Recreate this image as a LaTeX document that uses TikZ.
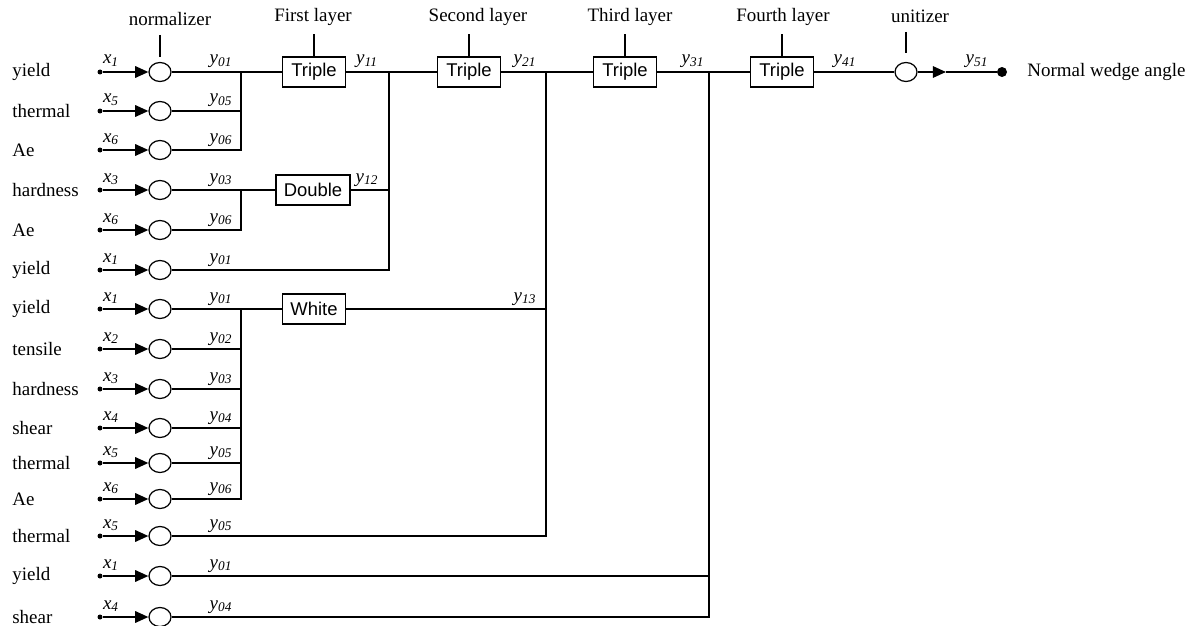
\documentclass[tikz,border=0pt]{standalone}
\usepackage{fontspec}
\setmainfont{Liberation Serif}
\setsansfont{Liberation Sans}
\usepackage{tikz}
\usetikzlibrary{shapes.geometric,arrows.meta,positioning,calc}

\newcommand{\sx}[2]{\textit{#1}\textsubscript{\textit{#2}}}

\begin{document}
\begin{tikzpicture}[
  x=0.02cm, y=-0.02cm,
  font=\fontsize{10.8}{13}\selectfont,
  >={Triangle[length=7.5pt, width=6.5pt]},
  norm/.style={ellipse, draw, line width=0.7pt, fill=white,
               minimum width=0.44cm, minimum height=0.38cm, inner sep=0},
  dot/.style={circle, fill=black, minimum size=0.1cm, inner sep=0},
  enddot/.style={circle, fill=black, minimum size=0.2cm, inner sep=0},
  box/.style={rectangle, draw, line width=0.8pt, fill=white, minimum width=1.26cm,
              minimum height=0.6cm, inner sep=2pt, font=\sffamily\fontsize{10.5}{12}\selectfont},
  layer/.style={anchor=south, inner sep=0pt},
  inlbl/.style={anchor=west, inner sep=0pt},
  sig/.style={anchor=base, inner sep=0pt},
  inarr/.style={->, line width=1.1pt},
  wire/.style={line width=0.8pt},
]
\useasboundingbox (0,0) rectangle (1199,625);

% inputs and normalizers
\foreach \i/\yy/\name/\xs/\ys in {1/72/yield/1/01, 2/111/thermal/5/05, 3/150/Ae/6/06,
    4/190/hardness/3/03, 5/230/Ae/6/06, 6/270/yield/1/01, 7/309/yield/1/01,
    8/349/tensile/2/02, 9/389/hardness/3/03, 10/428/shear/4/04, 11/463/thermal/5/05,
    12/499/Ae/6/06, 13/536/thermal/5/05, 14/576/yield/1/01, 15/617/shear/4/04}{
  \node[inlbl] (n\i) at (12,\yy) {\name};
  \node[dot]   (d\i) at (100,\yy) {};
  \node[norm]  (c\i) at (160,\yy) {};
  \draw[inarr] (d\i) -- (c\i);
  \node[sig] (xl\i) at (111,\yy-8) {\sx{x}{\xs}};
  \node[sig] (yl\i) at (221,\yy-8) {\sx{y}{\ys}};
}

% layer boxes
\node[box] (t1) at (314,72)  {Triple};
\node[box] (t2) at (469,72)  {Triple};
\node[box] (t3) at (625,72)  {Triple};
\node[box] (t4) at (782,72)  {Triple};
\node[box, minimum width=1.48cm] (db) at (313,190) {Double};
\node[box] (wh) at (314,309) {White};
\node[norm] (un) at (906,72) {};
\node[enddot] (end) at (1002,72) {};
\node[inlbl] (out) at (1027,72) {Normal wedge angle};

% layer titles
\node[layer] (lnorm) at (170,26) {normalizer};
\node[layer] (l1) at (313,26) {First layer};
\node[layer] (l2) at (478,26) {Second layer};
\node[layer] (l3) at (630,26) {Third layer};
\node[layer] (l4) at (783,26) {Fourth layer};
\node[layer] (lun) at (920,23) {unitizer};

\coordinate (tn1) at (160,35);
\coordinate (tn2) at (160,57);
\coordinate (tu1) at (906,32);
\coordinate (tu2) at (906,53);
\draw[wire] (tn1) -- (tn2);
\draw[wire] (tu1) -- (tu2);
\draw[wire] (t1.north) -- ++(0,-22);
\draw[wire] (t2.north) -- ++(0,-22);
\draw[wire] (t3.north) -- ++(0,-22);
\draw[wire] (t4.north) -- ++(0,-22);

% junction points
\coordinate (ja) at (241,72);
\coordinate (jb) at (241,190);
\coordinate (jc) at (241,309);
\coordinate (j1) at (389,72);
\coordinate (j2) at (546,72);
\coordinate (j3) at (709,72);
\coordinate (am) at (946,72);

% connections
\draw[wire] (c1) -- (t1);
\draw[wire] (c2) -| (ja);
\draw[wire] (c3) -| (ja);
\draw[wire] (c4) -- (db);
\draw[wire] (c5) -| (jb);
\draw[wire] (c7) -- (wh);
\foreach \i in {8,...,12}{
  \draw[wire] (c\i) -| (jc);
}
\draw[wire] (t1) -- (t2);
\draw[wire] (db) -| (j1);
\draw[wire] (c6) -| (j1);
\draw[wire] (t2) -- (t3);
\draw[wire] (wh) -| (j2);
\draw[wire] (c13) -| (j2);
\draw[wire] (t3) -- (t4);
\draw[wire] (c14) -| (j3);
\draw[wire] (c15) -| (j3);
\draw[wire] (t4) -- (un);
\draw[inarr] (un) -- (am);
\draw[line width=1.1pt] (am) -- (end);

% signal labels
\node[sig] (y11) at (367,64)  {\sx{y}{11}};
\node[sig] (y12) at (367,182) {\sx{y}{12}};
\node[sig] (y13) at (525,301) {\sx{y}{13}};
\node[sig] (y21) at (525,64)  {\sx{y}{21}};
\node[sig] (y31) at (693,64)  {\sx{y}{31}};
\node[sig] (y41) at (845,64)  {\sx{y}{41}};
\node[sig] (y51) at (977,64)  {\sx{y}{51}};

\end{tikzpicture}
\end{document}
